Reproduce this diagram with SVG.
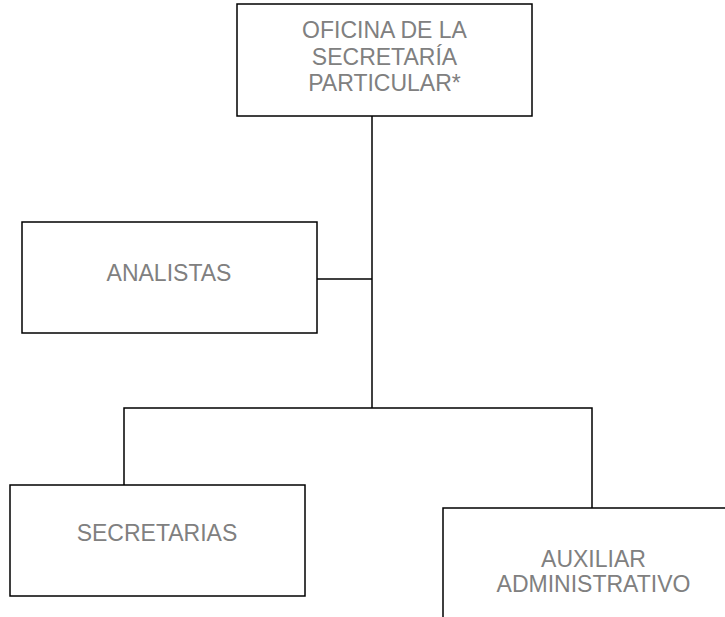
<svg xmlns="http://www.w3.org/2000/svg" width="725" height="617" viewBox="0 0 725 617">
<style>
.box{fill:#fff;stroke:#000;stroke-width:1.5}
.lbl{font-family:"Liberation Sans",Arial,sans-serif;font-size:23px;fill:#808080;text-anchor:middle}
.con{fill:none;stroke:#000;stroke-width:1.5}
</style>
<rect width="725" height="617" fill="#fff"/>
<g id="connectors">
<path class="con" d="M372,116 V408"/>
<path class="con" d="M317,279 H372"/>
<path class="con" d="M124,485 V408 H592 V508"/>
</g>
<g id="oficina">
<rect class="box" x="237" y="4" width="295" height="112"/>
<text class="lbl" x="384.5" y="38">OFICINA DE LA</text>
<text class="lbl" x="384.5" y="65">SECRETARÍA</text>
<text class="lbl" x="384.5" y="91">PARTICULAR*</text>
</g>
<g id="analistas">
<rect class="box" x="22" y="222" width="295" height="111"/>
<text class="lbl" x="169" y="281">ANALISTAS</text>
</g>
<g id="secretarias">
<rect class="box" x="10" y="485" width="295" height="111"/>
<text class="lbl" x="157" y="541">SECRETARIAS</text>
</g>
<g id="auxiliar">
<rect class="box" x="443" y="508" width="300" height="120"/>
<text class="lbl" x="593.5" y="567">AUXILIAR</text>
<text class="lbl" x="593.5" y="592">ADMINISTRATIVO</text>
</g>
</svg>
